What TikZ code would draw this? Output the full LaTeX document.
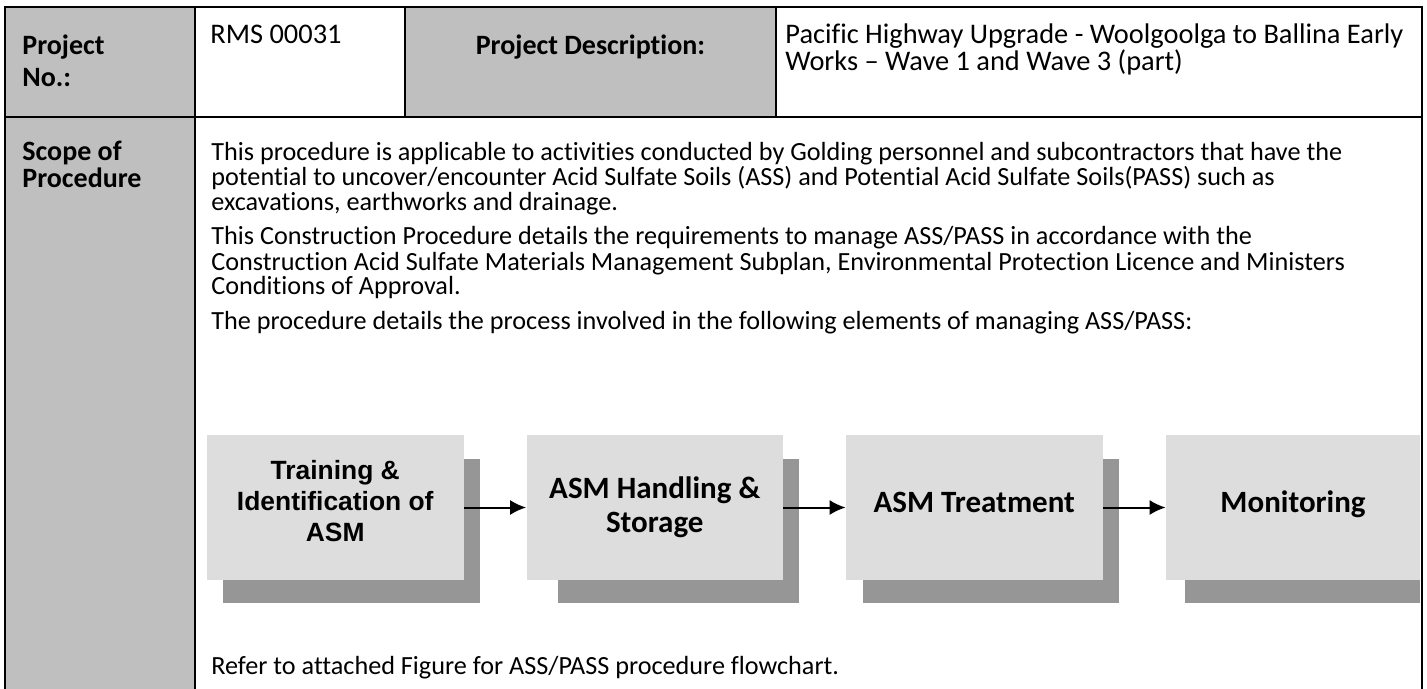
\documentclass[tikz,border=0pt]{standalone}
\usepackage{fontspec}
\setmainfont{Carlito}[Ligatures=NoCommon]
\newfontfamily\arialfont{Liberation Sans}
\usetikzlibrary{positioning,arrows.meta,backgrounds}
\definecolor{cellgray}{RGB}{191,191,191}
\definecolor{boxgray}{RGB}{221,221,221}
\definecolor{shadegray}{RGB}{150,150,150}
\newcommand{\tightlines}{\lineskiplimit=-20pt\relax}

\begin{document}
\begin{tikzpicture}[x=0.5pt,y=-0.5pt,
  rule/.style={line width=1pt},
  head/.style={inner sep=0pt, anchor=base west, align=left, font=\bfseries\fontsize{14}{13.5}\selectfont\tightlines},
  txt/.style={inner sep=0pt, anchor=base west, align=left, font=\fontsize{13.1}{12.5}\selectfont\tightlines},
  stepbox/.style={fill=boxgray, minimum width=128.25pt, minimum height=72.5pt, inner sep=0pt, align=center, font=\bfseries\fontsize{15.5}{17}\selectfont},
  flow/.style={-{Latex[length=8pt,width=7.5pt]}, line width=1pt}]
\useasboundingbox (0,0) rectangle (1427,689);
% cells
\fill[cellgray] (5,7) rectangle (195,117);
\fill[cellgray] (405,7) rectangle (776,117);
\fill[cellgray] (5,117) rectangle (195,689);

% header row
\node[head, font=\bfseries\fontsize{14}{16}\selectfont] (projno) at (22,87) {Project\\No.:};
\node[txt, font=\fontsize{14.2}{13.5}\selectfont] (rmsno) at (210,44) {RMS 00031};
\node[head, anchor=center] (desclbl) at (590.5,47) {Project Description:};
\node[txt, font=\fontsize{14.2}{13.5}\selectfont\tightlines] (desc) at (785,71) {Pacific Highway Upgrade - Woolgoolga to Ballina Early\\Works – Wave 1 and Wave 3 (part)};

% scope row
\node[head] (scope) at (22,188) {Scope of\\Procedure};
\node[txt] (para1) at (211,211) {This procedure is applicable to activities conducted by Golding personnel and subcontractors that have the\\potential to uncover/encounter Acid Sulfate Soils (ASS) and Potential Acid Sulfate Soils(PASS) such as\\excavations, earthworks and drainage.};
\node[txt] (para2) at (211,295) {This Construction Procedure details the requirements to manage ASS/PASS in accordance with the\\Construction Acid Sulfate Materials Management Subplan, Environmental Protection Licence and Ministers\\Conditions of Approval.};
\node[txt] (para3) at (211,329) {The procedure details the process involved in the following elements of managing ASS/PASS:};
\node[txt] (refer) at (211,674) {Refer to attached Figure for ASS/PASS procedure flowchart.};

% process steps
\node[stepbox, text depth=6.5pt, font=\arialfont\bfseries\fontsize{13.2}{15.5}\selectfont] (train) at (335.25,507.5) {Training \&\\Identification of\\ASM};
\node[stepbox] (handle) at (654.75,507.5) {ASM Handling \&\\Storage};
\node[stepbox, text depth=5.5pt] (treat) at (974.25,507.5) {ASM Treatment};
\node[stepbox, text depth=6pt, minimum width=127pt] (monitor) at (1293,507.5) {Monitoring};
\begin{scope}[on background layer]
\foreach \b/\l in {train/8pt, handle/16pt, treat/8.5pt}
  {\fill[shadegray] ([xshift=\l,yshift=-12pt]\b.north west) rectangle ([xshift=8pt,yshift=-11.5pt]\b.south east);}
\fill[shadegray] ([xshift=9.5pt,yshift=-12pt]monitor.north west) rectangle ([yshift=-11.5pt]monitor.south east);
\end{scope}
\foreach \i/\j in {train/handle, handle/treat, treat/monitor}{\draw[flow] (\i) -- (\j);}

% rules
\draw[rule] (5,689) -- (5,7) -- (1422,7) -- (1422,689);
\draw[rule] (5,117) -- (1422,117);
\draw[rule] (195,7) -- (195,689);
\draw[rule] (405,7) -- (405,117);
\draw[rule] (776,7) -- (776,117);
\end{tikzpicture}
\end{document}
